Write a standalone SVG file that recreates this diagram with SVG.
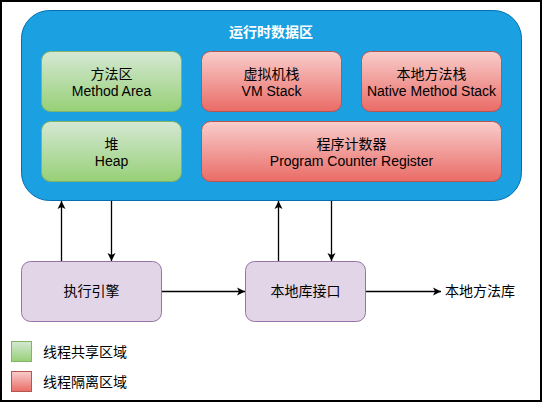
<svg xmlns="http://www.w3.org/2000/svg" width="542" height="402" viewBox="0 0 542 402">
<defs>
<linearGradient id="gG" x1="0" y1="0" x2="0" y2="1"><stop offset="0" stop-color="#d5e8d4"/><stop offset="1" stop-color="#97d077"/></linearGradient>
<linearGradient id="gR" x1="0" y1="0" x2="0" y2="1"><stop offset="0" stop-color="#f8cecc"/><stop offset="1" stop-color="#ea6b66"/></linearGradient>
<marker id="arr" markerWidth="10" markerHeight="10" refX="9" refY="5" orient="auto" markerUnits="userSpaceOnUse"><path d="M1,1 L9,5 L1,9 L3,5 Z" fill="#000"/></marker>
</defs>
<style>
text{font-family:"Liberation Sans","Noto Sans CJK SC",sans-serif;font-size:14px;fill:#000;}
.c{text-anchor:middle;}
.green{fill:url(#gG);stroke:#82b366;stroke-width:1;}
.red{fill:url(#gR);stroke:#b85450;stroke-width:1;}
.purple{fill:#e1d5e7;stroke:#9673a6;stroke-width:1;}
.edge{stroke:#000;stroke-width:1.3;fill:none;marker-end:url(#arr);}
</style>
<rect x="0" y="0" width="542" height="402" fill="#fff"/>
<rect x="1" y="1" width="540" height="400" fill="none" stroke="#000" stroke-width="2"/>
<g id="runtime">
<rect x="21.5" y="10.5" width="500" height="190" rx="28" ry="28" fill="#1ba1e2" stroke="#006eaf"/>
<text class="c" x="271" y="37" style="fill:#fff;font-weight:bold">运行时数据区</text>
</g>
<g id="method-area">
<rect class="green" x="41.5" y="51.5" width="140" height="60" rx="9"/>
<text class="c" x="111.5" y="79">方法区</text>
<text class="c" x="111.5" y="96">Method Area</text>
</g>
<g id="vm-stack">
<rect class="red" x="201.5" y="51.5" width="140" height="60" rx="9"/>
<text class="c" x="271.5" y="79">虚拟机栈</text>
<text class="c" x="271.5" y="96">VM Stack</text>
</g>
<g id="native-stack">
<rect class="red" x="361.5" y="51.5" width="140" height="60" rx="9"/>
<text class="c" x="431.5" y="79">本地方法栈</text>
<text class="c" x="431.5" y="96">Native Method Stack</text>
</g>
<g id="heap">
<rect class="green" x="41.5" y="121.5" width="140" height="60" rx="9"/>
<text class="c" x="111.5" y="149">堆</text>
<text class="c" x="111.5" y="166">Heap</text>
</g>
<g id="pc-register">
<rect class="red" x="201.5" y="121.5" width="300" height="60" rx="9"/>
<text class="c" x="351.5" y="149">程序计数器</text>
<text class="c" x="351.5" y="166">Program Counter Register</text>
</g>
<g id="exec-engine">
<rect class="purple" x="21.5" y="261.5" width="140" height="60" rx="9"/>
<text class="c" x="91.5" y="296">执行引擎</text>
</g>
<g id="native-interface">
<rect class="purple" x="245.5" y="261.5" width="120" height="60" rx="9"/>
<text class="c" x="305.5" y="296">本地库接口</text>
</g>
<g id="native-lib">
<text x="445" y="296">本地方法库</text>
</g>
<g id="connectors">
<line class="edge" x1="61.5" y1="261" x2="61.5" y2="201"/>
<line class="edge" x1="111.5" y1="201" x2="111.5" y2="261"/>
<line class="edge" x1="278.5" y1="261" x2="278.5" y2="201"/>
<line class="edge" x1="331.5" y1="201" x2="331.5" y2="261"/>
<line class="edge" x1="162" y1="291.5" x2="245" y2="291.5"/>
<line class="edge" x1="366" y1="291.5" x2="441" y2="291.5"/>
</g>
<g id="legend">
<rect class="green" x="11.5" y="341.5" width="20" height="20"/>
<text x="43" y="357">线程共享区域</text>
<rect class="red" x="11.5" y="371.5" width="20" height="20"/>
<text x="43" y="387">线程隔离区域</text>
</g>
</svg>
